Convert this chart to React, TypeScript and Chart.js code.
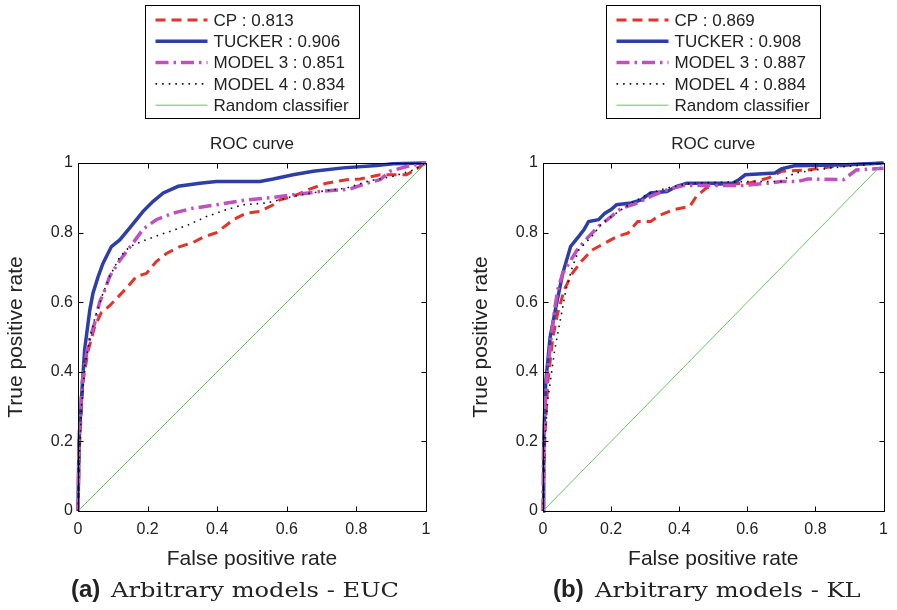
import React, { useEffect, useRef } from 'react';
import { Chart, registerables } from 'chart.js';
Chart.register(...registerables);

// ---------- data ----------
const tickValues = [0, 0.2, 0.4, 0.6, 0.8, 1];
const seriesNames = ['CP', 'TUCKER', 'MODEL 3', 'MODEL 4'];
const eucAuc = [0.813, 0.906, 0.851, 0.834];
const klAuc = [0.869, 0.908, 0.887, 0.884];
const randomFpr = [0, 1];
const randomTpr = [0, 1];

// EUC panel
const eucCpFpr = [0, 0.002, 0.005, 0.014, 0.029, 0.048, 0.067, 0.091, 0.139, 0.168, 0.197, 0.225, 0.254, 0.293, 0.331, 0.36, 0.398, 0.427, 0.446, 0.484, 0.523, 0.561, 0.58, 0.618, 0.666, 0.714, 0.772, 0.81, 0.868, 0.944, 1];
const eucCpTpr = [0, 0.1, 0.2, 0.37, 0.46, 0.53, 0.57, 0.59, 0.64, 0.674, 0.683, 0.717, 0.74, 0.76, 0.772, 0.787, 0.8, 0.822, 0.837, 0.856, 0.861, 0.88, 0.894, 0.904, 0.925, 0.942, 0.952, 0.954, 0.966, 0.966, 1];
const eucTuckerFpr = [0, 0.003, 0.0096, 0.019, 0.034, 0.043, 0.058, 0.072, 0.096, 0.12, 0.144, 0.168, 0.187, 0.216, 0.245, 0.288, 0.35, 0.398, 0.523, 0.561, 0.618, 0.676, 0.762, 0.858, 0.906, 1];
const eucTuckerTpr = [0, 0.2, 0.319, 0.463, 0.578, 0.626, 0.674, 0.712, 0.76, 0.779, 0.808, 0.837, 0.861, 0.89, 0.914, 0.933, 0.942, 0.947, 0.947, 0.954, 0.966, 0.976, 0.986, 0.993, 0.998, 1];
const eucM3Fpr = [0, 0.003, 0.012, 0.029, 0.048, 0.062, 0.077, 0.091, 0.12, 0.158, 0.187, 0.225, 0.273, 0.33, 0.398, 0.484, 0.55, 0.618, 0.695, 0.78, 0.83, 0.868, 0.896, 0.944, 1];
const eucM3Tpr = [0, 0.2, 0.37, 0.48, 0.54, 0.6, 0.635, 0.674, 0.72, 0.77, 0.81, 0.837, 0.856, 0.87, 0.88, 0.894, 0.9, 0.909, 0.918, 0.925, 0.942, 0.952, 0.976, 0.99, 1];
const eucM4Fpr = [0, 0.004, 0.01, 0.02, 0.035, 0.05, 0.07, 0.091, 0.12, 0.149, 0.197, 0.254, 0.312, 0.369, 0.427, 0.475, 0.542, 0.618, 0.695, 0.772, 0.83, 0.906, 0.964, 1];
const eucM4Tpr = [0, 0.15, 0.3, 0.42, 0.5, 0.56, 0.62, 0.674, 0.73, 0.76, 0.78, 0.8, 0.82, 0.846, 0.866, 0.88, 0.885, 0.904, 0.918, 0.928, 0.947, 0.962, 0.98, 1];

// KL panel
const klCpFpr = [0, 0.005, 0.014, 0.029, 0.043, 0.062, 0.086, 0.115, 0.144, 0.182, 0.22, 0.249, 0.278, 0.316, 0.345, 0.383, 0.431, 0.45, 0.479, 0.508, 0.604, 0.662, 0.7, 0.777, 0.853, 0.911, 1];
const klCpTpr = [0, 0.2, 0.37, 0.5, 0.568, 0.635, 0.683, 0.72, 0.75, 0.77, 0.79, 0.798, 0.832, 0.832, 0.851, 0.866, 0.875, 0.904, 0.928, 0.938, 0.942, 0.957, 0.976, 0.98, 0.99, 0.995, 1];
const klTuckerFpr = [0, 0.002, 0.008, 0.021, 0.038, 0.058, 0.081, 0.105, 0.12, 0.134, 0.163, 0.182, 0.2, 0.216, 0.259, 0.288, 0.316, 0.364, 0.393, 0.422, 0.556, 0.575, 0.594, 0.681, 0.7, 0.738, 0.892, 1];
const klTuckerTpr = [0, 0.2, 0.37, 0.5, 0.587, 0.683, 0.76, 0.789, 0.808, 0.832, 0.837, 0.856, 0.866, 0.88, 0.885, 0.894, 0.914, 0.918, 0.933, 0.942, 0.942, 0.952, 0.966, 0.971, 0.983, 0.992, 0.995, 1];
const klM3Fpr = [0, 0.002, 0.01, 0.024, 0.034, 0.043, 0.058, 0.1, 0.125, 0.163, 0.2, 0.23, 0.278, 0.316, 0.364, 0.412, 0.585, 0.662, 0.7, 0.748, 0.777, 0.882, 0.92, 1];
const klM3Tpr = [0, 0.2, 0.37, 0.5, 0.578, 0.635, 0.683, 0.75, 0.779, 0.818, 0.846, 0.87, 0.885, 0.904, 0.923, 0.935, 0.935, 0.942, 0.947, 0.947, 0.954, 0.952, 0.98, 0.985];
const klM4Fpr = [0, 0.005, 0.014, 0.034, 0.053, 0.067, 0.086, 0.105, 0.144, 0.173, 0.221, 0.259, 0.316, 0.364, 0.431, 0.604, 0.7, 0.738, 0.844, 0.95, 1];
const klM4Tpr = [0, 0.2, 0.32, 0.46, 0.56, 0.635, 0.7, 0.75, 0.79, 0.827, 0.86, 0.885, 0.914, 0.928, 0.942, 0.947, 0.947, 0.971, 0.986, 0.995, 1];

// ---------- styles ----------
const seriesColors = ['#e6322a', '#2d3ea8', '#c050c0', '#111111'];
const seriesWidths = [3, 3.5, 3.5, 1.6];
const seriesDashes: number[][] = [[10, 6], [], [13, 5, 2.5, 5], [1.6, 5]];
const randomColor = '#62c957';

const FONT = '"Liberation Sans", Arial, Helvetica, sans-serif';

const toPts = (xs: number[], ys: number[]) => xs.map((x, i) => ({ x, y: ys[i] }));

const framePlugin = {
  id: 'frameLegend',
  afterDatasetsDraw(chart: any) {
    const { ctx, chartArea: ca, scales } = chart;
    ctx.save();
    ctx.setLineDash([]);
    ctx.strokeStyle = '#000';
    ctx.lineWidth = 1;
    const L = Math.round(ca.left) + 0.5, T = Math.round(ca.top) + 0.5;
    const R = Math.round(ca.right) + 0.5, B = Math.round(ca.bottom) + 0.5;
    ctx.strokeRect(L, T, R - L, B - T);
    const seg = (x1: number, y1: number, x2: number, y2: number) => {
      ctx.beginPath(); ctx.moveTo(x1, y1); ctx.lineTo(x2, y2); ctx.stroke();
    };
    for (const v of tickValues) {
      const px = Math.round(scales.x.getPixelForValue(v)) + 0.5;
      seg(px, B, px, B - 5); seg(px, T, px, T + 5);
      const py = Math.round(scales.y.getPixelForValue(v)) + 0.5;
      seg(L, py, L + 5, py); seg(R, py, R - 5, py);
    }
    const cx = (ca.left + ca.right) / 2;
    ctx.fillStyle = '#222';
    ctx.font = '17px ' + FONT;
    ctx.textAlign = 'center';
    ctx.textBaseline = 'middle';
    ctx.fillText('ROC curve', cx, ca.top - 19);

    // legend box
    const bw = 214, bh = 113;
    const bx = Math.round(cx - bw / 2) + 0.5, by = 5.5;
    ctx.fillStyle = '#fff';
    ctx.fillRect(bx, by, bw, bh);
    ctx.strokeStyle = '#000';
    ctx.lineWidth = 1;
    ctx.strokeRect(bx, by, bw, bh);
    ctx.textAlign = 'left';
    ctx.font = '17px ' + FONT;
    chart.data.datasets.forEach((ds: any, i: number) => {
      const y = 20 + i * 21.3;
      ctx.save();
      ctx.strokeStyle = ds.borderColor;
      ctx.lineWidth = ds.borderWidth;
      ctx.setLineDash(ds.borderDash || []);
      ctx.beginPath();
      ctx.moveTo(bx + 10, y);
      ctx.lineTo(bx + 62, y);
      ctx.stroke();
      ctx.restore();
      ctx.fillStyle = '#222';
      ctx.fillText(ds.label, bx + 68, y + 1);
    });
    ctx.restore();
  },
};

type PanelProps = {
  left: number;
  width: number;
  padRight: number;
  yAxisWidth: number;
  aucs: number[];
  fprs: number[][];
  tprs: number[][];
};

function Panel({ left, width, padRight, yAxisWidth, aucs, fprs, tprs }: PanelProps) {
  const ref = useRef<HTMLCanvasElement>(null);
  useEffect(() => {
    if (!ref.current) return;
    const datasets: any[] = seriesNames.map((name, i) => ({
      label: `${name} : ${aucs[i].toFixed(3)}`,
      data: toPts(fprs[i], tprs[i]),
      borderColor: seriesColors[i],
      backgroundColor: seriesColors[i],
      borderWidth: seriesWidths[i],
      borderDash: seriesDashes[i],
      pointRadius: 0,
      fill: false,
      tension: 0,
      clip: false,
      order: 10 - i,
    }));
    datasets.push({
      label: 'Random classifier',
      data: toPts(randomFpr, randomTpr),
      borderColor: randomColor,
      backgroundColor: randomColor,
      borderWidth: 1,
      borderDash: [],
      pointRadius: 0,
      fill: false,
      clip: false,
      order: 1,
    });
    const axisCommon = {
      type: 'linear',
      min: 0,
      max: 1,
      afterBuildTicks: (s: any) => { s.ticks = tickValues.map((v) => ({ value: v })); },
      grid: { display: false, drawTicks: false },
      border: { display: false },
    };
    const chart = new Chart(ref.current, {
      type: 'line',
      data: { datasets },
      options: {
        animation: false,
        responsive: false,
        maintainAspectRatio: false,
        events: [],
        layout: { padding: { left: 0, right: padRight, top: 163, bottom: 0 } },
        plugins: { legend: { display: false }, tooltip: { enabled: false }, title: { display: false } },
        scales: {
          x: {
            ...axisCommon,
            ticks: { padding: 9, font: { size: 16, family: FONT }, color: '#222', maxRotation: 0, autoSkip: false, callback: (v: any) => String(v) },
            title: { display: true, text: 'False positive rate', font: { size: 21, family: FONT }, color: '#222', padding: { top: 0, bottom: 3 } },
            afterFit: (s: any) => { s.height = 64; },
          },
          y: {
            ...axisCommon,
            ticks: { padding: 5, font: { size: 16, family: FONT }, color: '#222', autoSkip: false, callback: (v: any) => String(v) },
            title: { display: true, text: 'True positive rate', font: { size: 21, family: FONT }, color: '#222', padding: { top: 4, bottom: 0 } },
            afterFit: (s: any) => { s.width = yAxisWidth; },
          },
        },
      } as any,
      plugins: [framePlugin],
    });
    return () => chart.destroy();
  }, []);
  return (
    <canvas
      ref={ref}
      width={width}
      height={575}
      style={{ position: 'absolute', left, top: 0, width, height: 575 }}
    />
  );
}

const captionSerif = '"DejaVu Serif", "Liberation Serif", serif';
const serifStyle: React.CSSProperties = {
  fontFamily: captionSerif,
  fontSize: 21,
  marginLeft: 11,
  display: 'inline-block',
  transform: 'scaleX(1.15)',
  transformOrigin: 'left center',
};

export default function App() {
  return (
    <div style={{ position: 'absolute', left: 0, top: 0, width: 897, height: 610, overflow: 'hidden', background: '#fff' }}>
      <Panel
        left={0}
        width={448}
        padRight={22}
        yAxisWidth={78}
        aucs={eucAuc}
        fprs={[eucCpFpr, eucTuckerFpr, eucM3Fpr, eucM4Fpr]}
        tprs={[eucCpTpr, eucTuckerTpr, eucM3Tpr, eucM4Tpr]}
      />
      <Panel
        left={465}
        width={432}
        padRight={6}
        yAxisWidth={78}
        aucs={klAuc}
        fprs={[klCpFpr, klTuckerFpr, klM3Fpr, klM4Fpr]}
        tprs={[klCpTpr, klTuckerTpr, klM3Tpr, klM4Tpr]}
      />
      <div style={{ position: 'absolute', left: 71, top: 574, whiteSpace: 'nowrap', color: '#222', lineHeight: '30px' }}>
        <span style={{ fontFamily: FONT, fontWeight: 'bold', fontSize: 24 }}>(a)</span>
        <span style={serifStyle}>Arbitrary models - EUC</span>
      </div>
      <div style={{ position: 'absolute', left: 553, top: 574, whiteSpace: 'nowrap', color: '#222', lineHeight: '30px' }}>
        <span style={{ fontFamily: FONT, fontWeight: 'bold', fontSize: 24 }}>(b)</span>
        <span style={serifStyle}>Arbitrary models - KL</span>
      </div>
    </div>
  );
}
